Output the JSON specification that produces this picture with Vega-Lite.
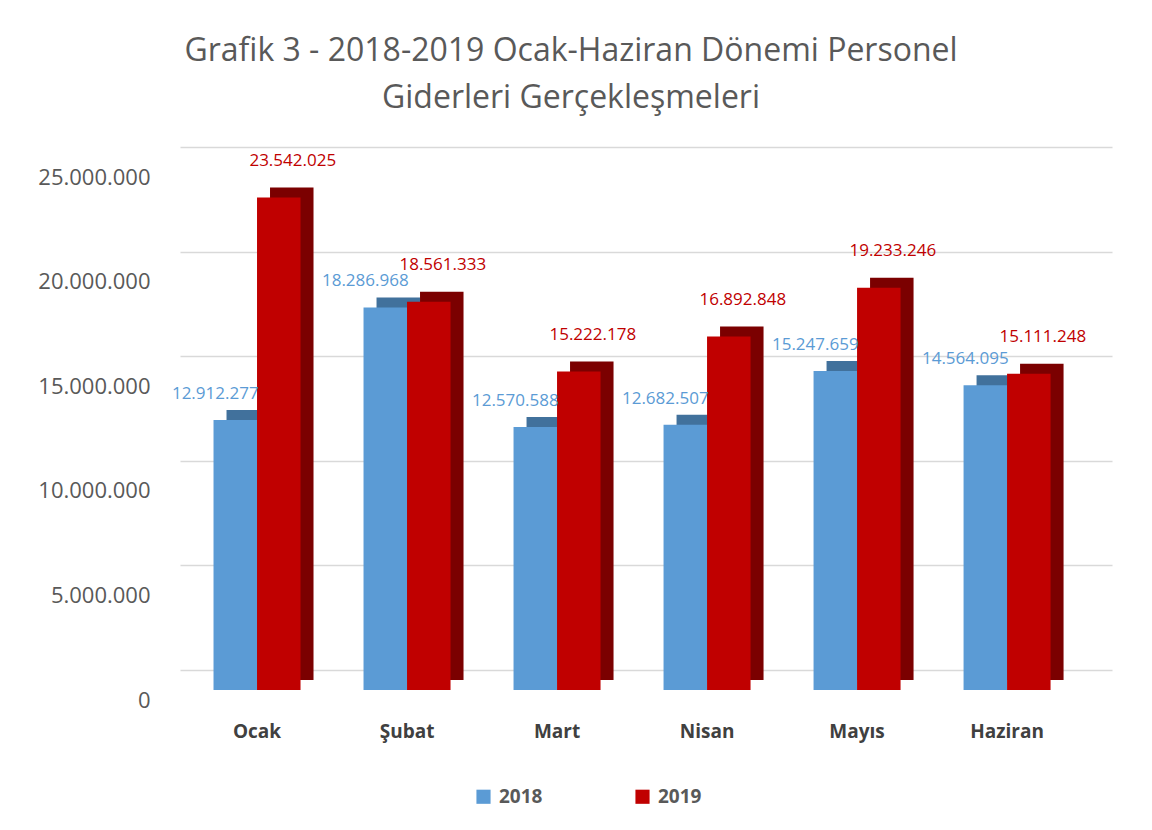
{
  "$schema": "https://vega.github.io/schema/vega-lite/v6.json",
  "width": 932,
  "height": 523,
  "padding": {"left": 30, "top": 34, "right": 40, "bottom": 10},
  "background": "white",
  "config": {
    "locale": {"number": {"decimal": ",", "thousands": ".", "grouping": [3], "currency": ["", ""]}},
    "view": {"stroke": null},
    "font": "Open Sans"
  },
  "title": {
    "text": ["Grafik 3 - 2018-2019 Ocak-Haziran Dönemi Personel", "Giderleri Gerçekleşmeleri"],
    "fontSize": 32,
    "fontWeight": "normal",
    "color": "#595959",
    "lineHeight": 47,
    "anchor": "middle",
    "frame": "bounds",
    "offset": 37,
    "font": "Open Sans"
  },
  "data": {
    "values": [
      {"month": "Ocak", "year": "2018", "value": 12912277},
      {"month": "Ocak", "year": "2019", "value": 23542025},
      {"month": "Şubat", "year": "2018", "value": 18286968},
      {"month": "Şubat", "year": "2019", "value": 18561333},
      {"month": "Mart", "year": "2018", "value": 12570588},
      {"month": "Mart", "year": "2019", "value": 15222178},
      {"month": "Nisan", "year": "2018", "value": 12682507},
      {"month": "Nisan", "year": "2019", "value": 16892848},
      {"month": "Mayıs", "year": "2018", "value": 15247659},
      {"month": "Mayıs", "year": "2019", "value": 19233246},
      {"month": "Haziran", "year": "2018", "value": 14564095},
      {"month": "Haziran", "year": "2019", "value": 15111248}
    ]
  },
  "encoding": {
    "x": {
      "field": "month",
      "type": "nominal",
      "sort": ["Ocak", "Şubat", "Mart", "Nisan", "Mayıs", "Haziran"],
      "scale": {"paddingInner": 0.42, "paddingOuter": 0.3165, "align": 0.353},
      "axis": {
        "title": null,
        "labelAngle": 0,
        "labelFontSize": 19,
        "labelFontWeight": "bold",
        "labelColor": "#404040",
        "labelPadding": 32,
        "domain": false,
        "ticks": false
      }
    },
    "y": {
      "field": "value",
      "type": "quantitative",
      "scale": {"domain": [0, 25000000], "nice": false},
      "axis": {
        "title": null,
        "values": [0, 5000000, 10000000, 15000000, 20000000, 25000000],
        "format": ",.0f",
        "labelFontSize": 22,
        "labelColor": "#595959",
        "labelPadding": 30,
        "minExtent": 150,
        "maxExtent": 150,
        "domain": false,
        "ticks": false,
        "grid": true,
        "gridColor": "#D9D9D9",
        "gridWidth": 1.5,
        "tickOffset": -20,
        "labelOffset": 30
      }
    }
  },
  "layer": [
    {
      "mark": {"type": "bar", "yOffset": -10},
      "encoding": {
        "xOffset": {"field": "year", "type": "nominal", "scale": {"range": [13, 100], "paddingInner": 0, "paddingOuter": 0}},
        "color": {
          "field": "year",
          "type": "nominal",
          "scale": {"range": ["#41719C", "#7B0000"]},
          "legend": null
        }
      }
    },
    {
      "layer": [
        {
          "mark": {"type": "bar"},
          "encoding": {
            "color": {
              "field": "year",
              "type": "nominal",
              "scale": {"range": ["#5B9BD5", "#C00000"]},
              "legend": {
                "title": null,
                "orient": "none",
                "legendX": 294,
                "legendY": 620,
                "direction": "horizontal",
                "symbolType": "square",
                "symbolSize": 200,
                "symbolStrokeWidth": 0,
                "labelFontSize": 19,
                "labelFontWeight": "bold",
                "labelColor": "#595959",
                "columnPadding": 90,
                "labelOffset": 6
              }
            }
          }
        },
        {
          "transform": [{"filter": "datum.year == '2018'"}],
          "mark": {"type": "text", "color": "#5B9BD5", "fontSize": 17, "dx": -20, "dy": -26},
          "encoding": {"text": {"field": "value", "type": "quantitative", "format": ",.0f"}}
        },
        {
          "transform": [{"filter": "datum.year == '2019'"}],
          "mark": {"type": "text", "color": "#C00000", "fontSize": 17, "dx": 14, "dy": -37},
          "encoding": {"text": {"field": "value", "type": "quantitative", "format": ",.0f"}}
        }
      ],
      "encoding": {
        "xOffset": {"field": "year", "type": "nominal"}
      }
    }
  ],
  "resolve": {"scale": {"color": "independent", "xOffset": "independent"}}
}
